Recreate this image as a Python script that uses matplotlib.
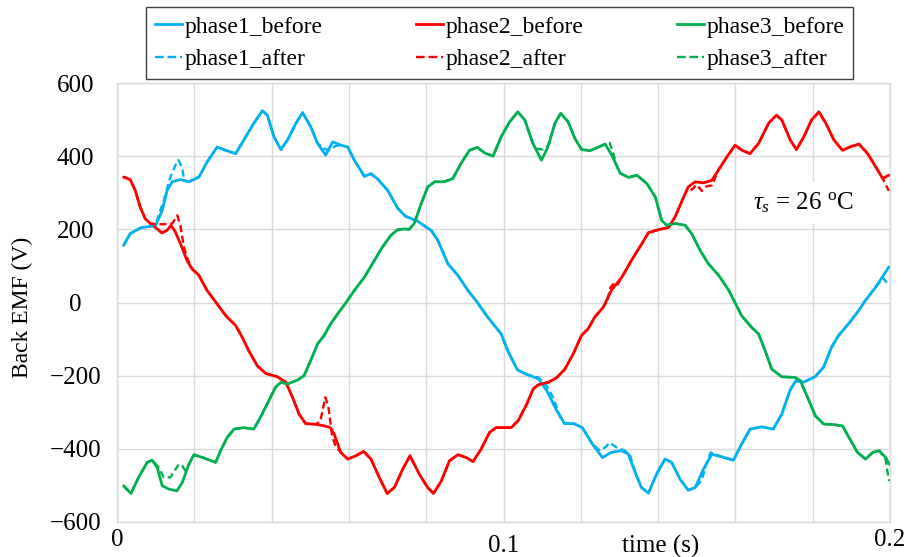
import numpy as np
import matplotlib
matplotlib.use("Agg")
import matplotlib.pyplot as plt
import matplotlib.transforms as mtransforms
from matplotlib.ticker import FixedLocator, MultipleLocator
from matplotlib.lines import Line2D

plt.rcParams["font.family"] = ["Liberation Serif", "DejaVu Serif"]
plt.rcParams["mathtext.fontset"] = "custom"
plt.rcParams["mathtext.rm"] = "Liberation Serif"
plt.rcParams["mathtext.it"] = "Liberation Serif:italic"

# ---- data: time in ms, back EMF in V ----
t_p1_before = [1.7, 3.4, 6.1, 8.6, 10.0, 11.7, 13.0, 14.3, 16.4, 18.6, 21.2, 23.3, 25.9, 28.1, 30.7,
               32.8, 35.4, 37.6, 38.9, 40.6, 42.4, 44.1, 46.3, 48.0, 50.1, 51.9, 54.0, 55.8, 57.9,
               59.7, 61.4, 64.0, 65.7, 67.4, 70.0, 72.6, 74.6, 77.8, 81.3, 83.0, 85.6, 88.2, 90.8,
               92.9, 95.9, 99.4, 101.1, 103.6, 106.1, 109.1, 111.2, 113.8, 115.8, 118.2, 120.4,
               123.0, 125.6, 127.8, 130.4, 132.2, 133.9, 135.7, 137.5, 139.6, 141.8, 143.5, 145.7,
               147.8, 149.6, 151.7, 153.9, 156.5, 159.5, 161.6, 163.8, 166.8, 169.8, 172.0, 174.1,
               175.6, 177.6, 180.6, 182.8, 184.9, 186.7, 189.3, 191.9, 193.6, 196.3, 199.7]
v_p1_before = [156, 188, 204, 208, 210, 252, 307, 330, 336, 330, 343, 384, 425, 416, 407,
               444, 490, 524, 512, 453, 418, 444, 490, 519, 481, 435, 403, 439, 430,
               425, 389, 345, 352, 338, 307, 258, 236, 222, 197, 170, 106, 74, 33,
               5, -40, -86, -132, -184, -197, -209, -241, -296, -331, -331, -342,
               -387, -424, -410, -405, -413, -460, -506, -521, -469, -428, -437, -483,
               -513, -506, -456, -415, -422, -431, -387, -346, -340, -346, -305, -241,
               -214, -218, -203, -177, -122, -90, -58, -22, 5, 42, 97]

t_p1_after = [1.7, 3.4, 6.1, 8.6, 10.0, 12.1, 13.8, 15.1, 15.9, 16.8, 17.4, 18.6, 21.2, 23.3, 25.9,
              28.1, 30.7, 32.8, 35.4, 37.6, 38.9, 40.6, 42.4, 44.1, 46.3, 48.0, 50.1, 51.9, 53.6,
              55.0, 56.5, 57.9, 59.7, 61.4, 64.0, 65.7, 67.4, 70.0, 72.6, 74.6, 77.8, 81.3, 83.0,
              85.6, 88.2, 90.8, 92.9, 95.9, 99.4, 101.1, 103.6, 106.1, 109.1, 111.2, 112.8, 114.9,
              115.8, 118.2, 120.4, 123.0, 125.0, 126.4, 127.5, 129.2, 131.4, 132.8, 134.3, 135.7,
              137.5, 139.6, 141.8, 143.5, 145.7, 147.8, 149.6, 151.3, 152.5, 153.6, 156.5, 159.5,
              161.6, 163.8, 166.8, 169.8, 172.0, 174.1, 175.6, 177.6, 180.6, 182.8, 184.9, 186.7,
              189.3, 191.9, 193.6, 196.3, 198.2, 199.7]
v_p1_after = [156, 188, 204, 208, 214, 279, 343, 375, 389, 370, 334, 330, 343, 384, 425,
              416, 407, 444, 490, 524, 512, 453, 418, 444, 490, 519, 481, 435, 420,
              416, 428, 430, 425, 389, 345, 352, 338, 307, 258, 236, 222, 197, 170,
              106, 74, 33, 5, -40, -86, -132, -184, -197, -205, -228, -259, -319,
              -331, -331, -342, -387, -405, -395, -383, -396, -405, -420, -470, -506,
              -521, -469, -428, -437, -483, -513, -506, -486, -440, -410, -422, -431,
              -387, -346, -340, -346, -305, -241, -214, -218, -203, -177, -122, -90,
              -58, -22, 5, 42, 68, 45]

t_p2_before = [1.7, 3.4, 4.7, 6.0, 7.3, 8.6, 10.3, 11.6, 12.9, 14.0, 15.1, 16.4, 18.1, 19.4, 21.2,
               23.3, 25.9, 28.3, 30.7, 32.4, 34.1, 36.3, 38.5, 41.5, 43.7, 45.4, 47.1, 48.8, 51.4,
               53.6, 55.2, 56.2, 57.9, 59.7, 61.8, 63.8, 65.7, 67.9, 69.9, 71.8, 73.9, 75.8, 78.2,
               80.4, 81.9, 83.9, 86.0, 88.2, 90.4, 92.1, 94.2, 96.4, 98.1, 102.0, 103.8, 106.0,
               107.7, 109.0, 111.6, 113.7, 115.9, 118.0, 120.2, 121.9, 123.6, 125.8, 127.9, 130.6,
               133.1, 135.7, 137.5, 140.1, 142.7, 144.4, 146.6, 147.8, 149.6, 151.7, 153.9, 155.6,
               157.8, 159.9, 161.7, 163.8, 166.0, 168.6, 170.6, 172.0, 174.2, 175.8, 177.7, 179.7,
               181.6, 183.4, 185.5, 187.7, 189.8, 192.0, 194.2, 196.3, 198.1, 199.7]
v_p2_before = [343, 336, 307, 261, 229, 216, 202, 190, 197, 211, 193, 161, 115, 92, 74,
               33, -4, -38, -63, -95, -132, -173, -194, -203, -218, -259, -305, -331, -333,
               -337, -342, -360, -410, -428, -419, -407, -428, -479, -522, -505, -456, -419, -469,
               -506, -522, -488, -433, -416, -424, -435, -401, -355, -342, -342, -323, -278,
               -236, -225, -218, -206, -182, -141, -90, -72, -40, -13, 33, 69,
               115, 159, 191, 199, 205, 234, 288, 316, 330, 327, 334, 362,
               398, 430, 416, 407, 435, 490, 512, 499, 444, 418, 453, 499,
               521, 490, 444, 416, 426, 433, 407, 371, 339, 348]

t_p2_after = [1.7, 3.4, 4.7, 6.0, 7.3, 8.6, 10.3, 12.1, 14.3, 15.6, 16.4, 17.3, 18.3, 19.4, 21.2,
              23.3, 25.9, 28.3, 30.7, 32.4, 34.1, 36.3, 38.5, 41.5, 43.7, 45.4, 47.1, 48.8, 51.4,
              52.6, 53.9, 54.7, 55.6, 56.5, 57.9, 59.7, 61.8, 63.8, 65.7, 67.9, 69.9, 71.8, 73.9,
              75.8, 78.2, 80.4, 81.9, 83.9, 86.0, 88.2, 90.4, 92.1, 94.2, 96.4, 98.1, 102.0, 103.8,
              106.0, 107.7, 109.0, 111.6, 113.7, 115.9, 118.0, 120.2, 121.9, 123.6, 125.8, 126.9,
              127.6, 128.4, 129.3, 130.6, 133.1, 135.7, 137.5, 140.1, 142.7, 144.4, 146.6, 147.8,
              148.7, 150.0, 151.3, 152.6, 153.9, 155.6, 157.8, 159.9, 161.7, 163.8, 166.0, 168.6,
              170.6, 172.0, 174.2, 175.8, 177.7, 179.7, 181.6, 183.4, 185.5, 187.7, 189.8, 192.0,
              194.2, 196.3, 198.1, 199.0, 199.7]
v_p2_after = [343, 336, 307, 261, 229, 216, 214, 214, 216, 238, 211, 152, 118, 92, 74,
              33, -4, -38, -63, -95, -132, -173, -194, -203, -218, -259, -305, -331, -333,
              -325, -259, -285, -360, -392, -410, -428, -419, -407, -428, -479, -522, -505, -456,
              -419, -469, -506, -522, -488, -433, -416, -424, -435, -401, -355, -342, -342, -323,
              -278, -236, -225, -218, -206, -182, -141, -90, -72, -40, -13, 5,
              40, 50, 45, 69, 115, 159, 191, 199, 205, 234, 288, 316,
              308, 322, 305, 318, 320, 362, 398, 430, 416, 407, 435, 490,
              512, 499, 444, 418, 453, 499, 521, 490, 444, 416, 426, 433,
              407, 371, 339, 320, 305]

t_p3_before = [1.7, 3.6, 5.6, 7.8, 9.1, 10.4, 11.7, 13.4, 15.5, 16.9, 18.6, 19.9, 22.5, 25.5, 26.8,
               28.5, 30.3, 32.8, 35.4, 37.1, 39.3, 41.0, 42.4, 44.1, 46.7, 48.4, 50.1, 51.9, 53.6,
               55.3, 57.1, 59.0, 61.4, 64.0, 66.6, 68.7, 70.9, 72.6, 74.4, 75.6, 76.9, 78.7, 80.4,
               82.2, 84.7, 86.9, 89.0, 91.2, 93.2, 95.1, 97.3, 99.4, 101.6, 103.7, 105.5, 107.6,
               109.8, 111.5, 113.3, 114.8, 116.7, 118.5, 120.2, 122.4, 124.6, 126.3, 128.0, 130.2,
               132.4, 134.5, 137.1, 139.3, 140.9, 142.2, 144.4, 147.0, 148.7, 150.9, 153.0, 155.7,
               158.3, 161.6, 164.2, 166.0, 167.7, 169.4, 172.0, 175.5, 176.8, 178.5, 180.7, 182.8,
               185.5, 187.7, 189.4, 191.6, 193.7, 195.5, 197.2, 198.9, 199.8]
v_p3_before = [-501, -522, -478, -437, -431, -451, -501, -510, -515, -492, -442, -416, -425, -437, -405,
               -369, -346, -342, -346, -314, -268, -232, -218, -223, -212, -200, -159, -113, -90,
               -58, -31, -4, 33, 69, 115, 152, 184, 199, 201, 200, 216, 270, 316,
               330, 330, 339, 380, 416, 424, 409, 400, 453, 494, 521, 499, 435,
               389, 425, 490, 517, 494, 448, 418, 415, 425, 433, 403, 353,
               342, 348, 325, 288, 225, 211, 216, 211, 188, 142, 106, 74,
               33, -36, -68, -86, -132, -182, -203, -205, -214, -255, -310, -332,
               -334, -337, -369, -410, -428, -410, -405, -424, -442]

t_p3_after = [1.7, 3.6, 5.6, 7.8, 9.1, 10.8, 12.1, 13.8, 16.0, 16.9, 17.7, 18.6, 19.9, 22.5, 25.5,
              26.8, 28.5, 30.3, 32.8, 35.4, 37.1, 39.3, 41.0, 42.4, 44.1, 46.7, 48.4, 50.1, 51.9,
              53.6, 55.3, 57.1, 59.0, 61.4, 64.0, 66.6, 68.7, 70.9, 72.6, 74.4, 75.6, 76.9, 78.7,
              80.4, 82.2, 84.7, 86.9, 89.0, 91.2, 93.2, 95.1, 97.3, 99.4, 101.6, 103.7, 105.5,
              107.6, 108.8, 110.2, 111.5, 113.3, 114.8, 116.7, 118.5, 120.2, 122.4, 124.6, 126.3,
              127.5, 128.4, 129.3, 130.2, 132.4, 134.5, 137.1, 139.3, 140.9, 142.2, 144.4, 147.0,
              148.7, 150.9, 153.0, 155.7, 158.3, 161.6, 164.2, 166.0, 167.7, 169.4, 172.0, 175.5,
              176.8, 178.5, 180.7, 182.8, 185.5, 187.7, 189.4, 191.6, 193.7, 195.5, 197.2, 198.9,
              199.3, 199.8]
v_p3_after = [-501, -522, -478, -437, -431, -451, -478, -478, -442, -447, -460, -442, -416, -425, -437,
              -405, -369, -346, -342, -346, -314, -268, -232, -218, -223, -212, -200, -159, -113,
              -90, -58, -31, -4, 33, 69, 115, 152, 184, 199, 201, 200, 216, 270,
              316, 330, 330, 339, 380, 416, 424, 409, 400, 453, 494, 521, 499,
              435, 420, 418, 428, 490, 517, 494, 448, 418, 415, 425, 433,
              436, 407, 375, 353, 342, 348, 325, 288, 225, 211, 216, 211,
              188, 142, 106, 74, 33, -36, -68, -86, -132, -182, -203, -205,
              -214, -255, -310, -332, -334, -337, -369, -410, -428, -410, -405, -430,
              -460, -488]

series_labels = ["phase1_before", "phase1_after", "phase2_before",
                 "phase2_after", "phase3_before", "phase3_after"]
x_tick_values = [0, 0.1, 0.2]
x_tick_labels = ["0", "0.1", "0.2"]
y_tick_values = [-600, -400, -200, 0, 200, 400, 600]
temperature_note = r"$\tau_s$" + " = 26 " + r"$^{\mathrm{o}}$C"

BLUE, RED, GREEN = "#00B0F0", "#FF0000", "#00B050"
GRID = "#d9d9d9"
DASH = (0, (3.0, 1.6))

fig = plt.figure(figsize=(9.06, 5.57), dpi=100)
ax = fig.add_axes([117 / 906, 1 - 522 / 557, (890 - 117) / 906, (522 - 83) / 557])

series = [
    (t_p1_before, v_p1_before, t_p1_after, v_p1_after, BLUE),
    (t_p2_before, v_p2_before, t_p2_after, v_p2_after, RED),
    (t_p3_before, v_p3_before, t_p3_after, v_p3_after, GREEN),
]
handles = []
for tb, vb, ta, va, col in series:
    hb, = ax.plot(np.array(tb) / 1000.0, vb, color=col, lw=2.0, solid_joinstyle="round",
                  solid_capstyle="round", zorder=3)
    ha, = ax.plot(np.array(ta) / 1000.0, va, color=col, lw=1.7, linestyle=DASH, zorder=4)
    handles += [hb, ha]

ax.set_xlim(0, 0.2)
ax.set_ylim(-600, 600)
ax.xaxis.set_major_locator(FixedLocator(x_tick_values))
ax.set_xticklabels(x_tick_labels)
ax.xaxis.set_minor_locator(MultipleLocator(0.02))
ax.yaxis.set_major_locator(FixedLocator(y_tick_values))
ax.grid(True, which="both", color=GRID, lw=1.0, zorder=0)
ax.set_axisbelow(True)
for sp in ax.spines.values():
    sp.set_color(GRID)
    sp.set_linewidth(1.0)

ax.tick_params(axis="both", which="both", length=0, labelsize=18, colors="black")
ax.tick_params(axis="x", pad=5)
ax.tick_params(axis="y", pad=30)
for lab in ax.get_yticklabels():
    lab.set_horizontalalignment("center")

# the middle time label sits a little lower
mid = ax.get_xticklabels()[1]
mid.set_transform(mid.get_transform() +
                  mtransforms.ScaledTranslation(0, -6 / 100, fig.dpi_scale_trans))

ax.set_ylabel("Back EMF (V)", fontsize=17)
ax.yaxis.set_label_coords(-0.108, 0.49)
ax.set_xlabel("time (s)", fontsize=18, va="center")
ax.xaxis.set_label_coords(0.703, -0.055)

ax.text(0.1775, 272, temperature_note, fontsize=18, ha="center", va="center", zorder=2,
        bbox=dict(facecolor="white", edgecolor="none", pad=6))

legend_handles = [Line2D([], [], color=h.get_color(), lw=h.get_linewidth(),
                         linestyle=h.get_linestyle()) for h in handles]
leg = fig.legend(legend_handles, series_labels, loc="upper left",
                 bbox_to_anchor=(146 / 906, 1 - 7 / 557, (853 - 146) / 906, 0),
                 mode="expand", ncol=3, fontsize=17, frameon=True, fancybox=False,
                 edgecolor="#404040", framealpha=1, handlelength=1.15, handletextpad=0.1,
                 borderaxespad=0, labelspacing=0.47, borderpad=0.38, columnspacing=1.0)
leg.get_frame().set_linewidth(1.0)

fig.savefig("out.png", dpi=100)
